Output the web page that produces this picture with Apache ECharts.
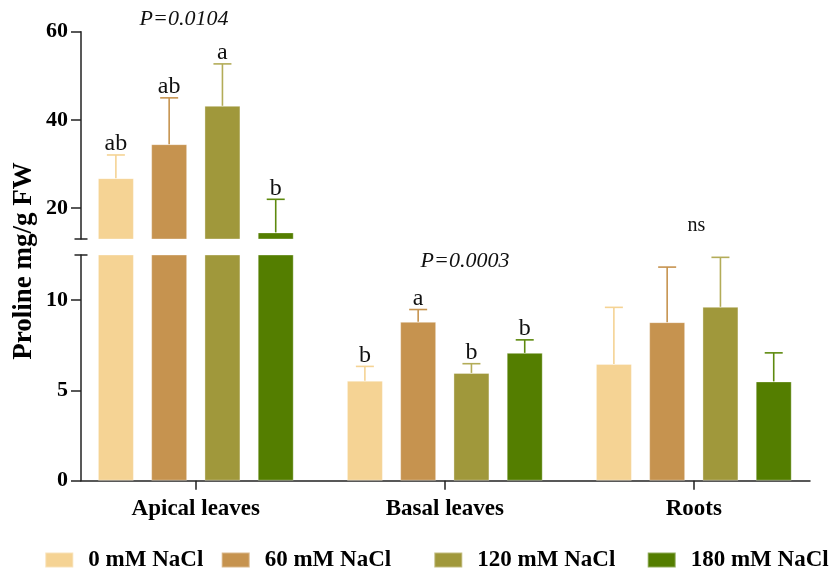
<!DOCTYPE html>
<html>
<head>
<meta charset="utf-8">
<script src="https://cdn.jsdelivr.net/npm/echarts@6/dist/echarts.min.js"></script>
<style>html,body{margin:0;padding:0;background:#fff}#c{width:834px;height:574px}</style>
</head>
<body>
<div id="c"></div>
<script>
// ---- data ----
const categories = ['Apical leaves', 'Basal leaves', 'Roots'];
const treatments = ['0 mM NaCl', '60 mM NaCl', '120 mM NaCl', '180 mM NaCl'];
const mean0   = [26.8, 5.54, 6.47];
const mean60  = [34.5, 8.80, 8.78];
const mean120 = [43.2, 5.97, 9.63];
const mean180 = [14.5, 7.08, 5.50];
const sd0   = [5.25, 0.79, 3.13];
const sd60  = [10.5, 0.68, 3.05];
const sd120 = [9.5, 0.51, 2.74];
const sd180 = [7.5, 0.72, 1.58];
const letters0   = ['ab', 'b', ''];
const letters60  = ['ab', 'a', ''];
const letters120 = ['a', 'b', ''];
const letters180 = ['b', 'b', ''];
const groupNotes = ['P=0.0104', 'P=0.0003', 'ns'];
const lowerTicks = [0, 5, 10];
const upperTicks = [20, 40, 60];
const LOWER_MIN = 0, LOWER_MAX = 12.5, UPPER_MIN = 13, UPPER_MAX = 60;

const means = [mean0, mean60, mean120, mean180];
const sds = [sd0, sd60, sd120, sd180];
const letters = [letters0, letters60, letters120, letters180];
const colors = ['#F5D394', '#C6934F', '#A0983B', '#547E00'];
const errColors = ['#F5D394', '#C6934F', '#B3AC58', '#5E8A0E'];

// ---- layout ----
const BAR_W = 36, BAR_GAP = 0.48, BAR_STEP = BAR_W * (1 + BAR_GAP), CAP = 18, BREAK_HALF = 6.5;
const FONT = "'Liberation Serif', 'Times New Roman', serif";
const AX = '#222';

function errItems(filter) {
  const out = [];
  for (let t = 0; t < 4; t++) for (let c = 0; c < categories.length; c++) {
    const m = means[t][c], top = m + sds[t][c];
    if (filter(m)) out.push([c, m, top, t]);
  }
  return out;
}
function renderErr(params, api) {
  const c = api.value(0), t = api.value(3);
  const b = api.coord([c, api.value(1)]);
  const p = api.coord([c, api.value(2)]);
  const x = b[0] + (t - 1.5) * BAR_STEP;
  const col = errColors[t];
  return {
    type: 'group',
    children: [
      { type: 'line', shape: { x1: x, y1: b[1], x2: x, y2: p[1] }, style: { stroke: col, lineWidth: 1.6 } },
      { type: 'line', shape: { x1: x - CAP / 2, y1: p[1], x2: x + CAP / 2, y2: p[1] }, style: { stroke: col, lineWidth: 1.6 } },
      { type: 'text', x: x, y: p[1] + 1, style: { text: letters[t][c], align: 'center', verticalAlign: 'bottom', font: '24px ' + FONT, fill: '#111' } }
    ]
  };
}
// axis-break marker: short line crossing the y axis at a segment end
function renderBreak(params, api) {
  const p = api.coord([api.value(0), api.value(1)]);
  return { type: 'line', shape: { x1: p[0] - BREAK_HALF, y1: p[1], x2: p[0] + BREAK_HALF, y2: p[1] },
           style: { stroke: AX, lineWidth: 1.5 } };
}

const series = [];
for (let t = 0; t < 4; t++) {
  series.push({
    name: treatments[t], type: 'bar', xAxisIndex: 0, yAxisIndex: 0,
    data: means[t], barWidth: BAR_W, barGap: (BAR_GAP * 100) + '%',
    itemStyle: { color: colors[t], borderColor: 'rgba(255,255,255,0.35)', borderWidth: 1 },
    clip: true, silent: true
  });
}
for (let t = 0; t < 4; t++) {
  series.push({
    name: treatments[t], type: 'bar', xAxisIndex: 1, yAxisIndex: 1,
    data: means[t].map(v => v > UPPER_MIN ? v : '-'), barWidth: BAR_W, barGap: (BAR_GAP * 100) + '%',
    itemStyle: { color: colors[t], borderColor: 'rgba(255,255,255,0.35)', borderWidth: 1 },
    clip: true, silent: true
  });
}
series.push({ type: 'custom', xAxisIndex: 0, yAxisIndex: 0, data: errItems(m => m < LOWER_MAX), renderItem: renderErr, z: 5, silent: true });
series.push({ type: 'custom', xAxisIndex: 1, yAxisIndex: 1, data: errItems(m => m > UPPER_MIN), renderItem: renderErr, z: 5, silent: true });
series.push({ type: 'custom', xAxisIndex: 2, yAxisIndex: 2, data: [[0, LOWER_MAX]], renderItem: renderBreak, z: 6, silent: true, clip: false });
series.push({ type: 'custom', xAxisIndex: 3, yAxisIndex: 3, data: [[0, UPPER_MIN]], renderItem: renderBreak, z: 6, silent: true, clip: false });

const barGridPos = { left: 71.3, right: 15.7 };
const axisGridPos = { left: 81, right: 24 };
const lowerV = { top: 255, bottom: 93.3 };
const upperV = { top: 31.7, height: 207.3 };

function mainAxis(grid, min, max, ticks) {
  return {
    type: 'value', gridIndex: grid, min: min, max: max, position: 'left',
    axisLine: { show: true, lineStyle: { color: AX, width: 1.5 } },
    axisTick: { show: true, length: 10, customValues: ticks, lineStyle: { color: AX, width: 1.5 } },
    axisLabel: { customValues: ticks, margin: 13, fontFamily: FONT, fontWeight: 'bold', fontSize: 22, color: '#000' },
    splitLine: { show: false }
  };
}

const legends = [44.3, 220.7, 433.3, 646.7].map((l, i) => ({
  data: [treatments[i]], left: l, top: 548.5, padding: 0, itemWidth: 28, itemHeight: 15, icon: 'rect',
  selectedMode: false,
  textStyle: { fontFamily: FONT, fontWeight: 'bold', fontSize: 23, color: '#000', padding: [0, 0, 0, 10] }
}));

const option = {
  animation: false,
  grid: [
    Object.assign({}, barGridPos, lowerV),
    Object.assign({}, barGridPos, upperV),
    Object.assign({}, axisGridPos, lowerV),
    Object.assign({}, axisGridPos, upperV)
  ],
  xAxis: [
    { type: 'category', gridIndex: 0, data: categories,
      axisLine: { show: false },
      axisTick: { show: true, alignWithLabel: true, length: 9, lineStyle: { color: AX, width: 1.5 } },
      axisLabel: { margin: 17, fontFamily: FONT, fontWeight: 'bold', fontSize: 23, color: '#000' } },
    { type: 'category', gridIndex: 1, data: categories, show: false },
    { type: 'value', gridIndex: 2, min: 0, max: 1,
      axisLine: { show: true, lineStyle: { color: AX, width: 1.5 } },
      axisTick: { show: false }, axisLabel: { show: false }, splitLine: { show: false } },
    { type: 'value', gridIndex: 3, min: 0, max: 1, show: false, splitLine: { show: false } }
  ],
  yAxis: [
    { type: 'value', gridIndex: 0, min: LOWER_MIN, max: LOWER_MAX, show: false, splitLine: { show: false } },
    { type: 'value', gridIndex: 1, min: UPPER_MIN, max: UPPER_MAX, show: false, splitLine: { show: false } },
    mainAxis(2, LOWER_MIN, LOWER_MAX, lowerTicks),
    mainAxis(3, UPPER_MIN, UPPER_MAX, upperTicks)
  ],
  legend: legends,
  graphic: [
    { type: 'text', x: 24, y: 261, rotation: Math.PI / 2,
      style: { text: 'Proline mg/g FW', align: 'center', verticalAlign: 'middle', font: 'bold 27px ' + FONT, fill: '#000' } },
    { type: 'text', x: 184, y: 19,
      style: { text: groupNotes[0], align: 'center', verticalAlign: 'middle', font: 'italic 22px ' + FONT, fill: '#111' } },
    { type: 'text', x: 465, y: 261,
      style: { text: groupNotes[1], align: 'center', verticalAlign: 'middle', font: 'italic 22px ' + FONT, fill: '#111' } },
    { type: 'text', x: 696.5, y: 226,
      style: { text: groupNotes[2], align: 'center', verticalAlign: 'middle', font: '20px ' + FONT, fill: '#111' } }
  ],
  series: series
};

const chart = echarts.init(document.getElementById('c'), null, { renderer: 'canvas' });
chart.setOption(option);
</script>
</body>
</html>
